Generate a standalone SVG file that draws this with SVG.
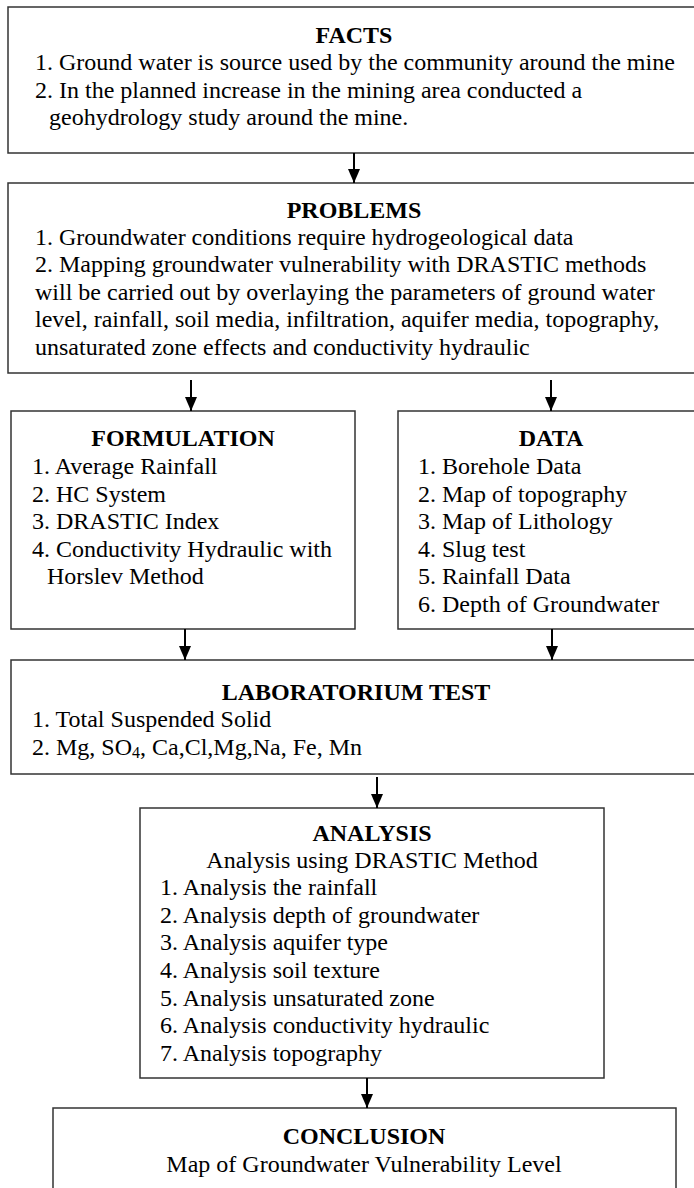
<svg xmlns="http://www.w3.org/2000/svg" width="694" height="1188" viewBox="0 0 694 1188">
<defs>
<marker id="ah" markerWidth="14" markerHeight="12" refX="14" refY="6" orient="auto" markerUnits="userSpaceOnUse" viewBox="0 0 14 12">
<path d="M0,0 L14,6 L0,12 Z" fill="#000"/>
</marker>
<style>
rect.box{fill:#fff;stroke:#333;stroke-width:1.5}
text{font-family:"Liberation Serif","Times New Roman",serif;font-size:24px;fill:#000}
text.t{font-weight:bold;text-anchor:middle}
text.c{text-anchor:middle}
line.a{stroke:#000;stroke-width:2;marker-end:url(#ah)}
</style>
</defs>
<rect width="694" height="1188" fill="#fff"/>
<g id="facts">
<rect class="box" x="8" y="7" width="694" height="146"/>
<text class="t" x="354" y="43">FACTS</text>
<text x="35" y="70">1. Ground water is source used by the community around the mine</text>
<text x="35" y="98">2. In the planned increase in the mining area conducted a</text>
<text x="49" y="125">geohydrology study around the mine.</text>
</g>
<g id="problems">
<rect class="box" x="8" y="183" width="694" height="190"/>
<text class="t" x="354" y="218">PROBLEMS</text>
<text x="35" y="245">1. Groundwater conditions require hydrogeological data</text>
<text x="35" y="272">2. Mapping groundwater vulnerability with DRASTIC methods</text>
<text x="35" y="300">will be carried out by overlaying the parameters of ground water</text>
<text x="35" y="327">level, rainfall, soil media, infiltration, aquifer media, topography,</text>
<text x="35" y="355">unsaturated zone effects and conductivity hydraulic</text>
</g>
<g id="formulation">
<rect class="box" x="11" y="411" width="344" height="218"/>
<text class="t" x="183" y="446">FORMULATION</text>
<text x="32" y="474">1. Average Rainfall</text>
<text x="32" y="502">2. HC System</text>
<text x="32" y="529">3. DRASTIC Index</text>
<text x="32" y="557">4. Conductivity Hydraulic with</text>
<text x="47" y="584">Horslev Method</text>
</g>
<g id="data">
<rect class="box" x="398" y="411" width="306" height="218"/>
<text class="t" x="551" y="446">DATA</text>
<text x="418" y="474">1. Borehole Data</text>
<text x="418" y="502">2. Map of topography</text>
<text x="418" y="529">3. Map of Lithology</text>
<text x="418" y="557">4. Slug test</text>
<text x="418" y="584">5. Rainfall Data</text>
<text x="418" y="612">6. Depth of Groundwater</text>
</g>
<g id="laboratorium">
<rect class="box" x="11" y="660" width="692" height="114"/>
<text class="t" x="356" y="700">LABORATORIUM TEST</text>
<text x="32" y="727">1. Total Suspended Solid</text>
<text x="32" y="755">2. Mg, SO<tspan font-size="16" dy="3">4</tspan><tspan dy="-3">, Ca,Cl,Mg,Na, Fe, Mn</tspan></text>
</g>
<g id="analysis">
<rect class="box" x="140" y="808" width="464" height="270"/>
<text class="t" x="372" y="841">ANALYSIS</text>
<text class="c" x="372" y="868">Analysis using DRASTIC Method</text>
<text x="160" y="895">1. Analysis the rainfall</text>
<text x="160" y="923">2. Analysis depth of groundwater</text>
<text x="160" y="950">3. Analysis aquifer type</text>
<text x="160" y="978">4. Analysis soil texture</text>
<text x="160" y="1006">5. Analysis unsaturated zone</text>
<text x="160" y="1033">6. Analysis conductivity hydraulic</text>
<text x="160" y="1061">7. Analysis topography</text>
</g>
<g id="conclusion">
<rect class="box" x="53" y="1108" width="623" height="100"/>
<text class="t" x="364" y="1144">CONCLUSION</text>
<text class="c" x="364" y="1172">Map of Groundwater Vulnerability Level</text>
</g>
<g id="connectors">
<line class="a" x1="354" y1="153" x2="354" y2="183"/>
<line class="a" x1="191" y1="380" x2="191" y2="411"/>
<line class="a" x1="551" y1="380" x2="551" y2="411"/>
<line class="a" x1="185" y1="629" x2="185" y2="660"/>
<line class="a" x1="552" y1="629" x2="552" y2="660"/>
<line class="a" x1="377" y1="777" x2="377" y2="808"/>
<line class="a" x1="367" y1="1078" x2="367" y2="1108"/>
</g>
</svg>
